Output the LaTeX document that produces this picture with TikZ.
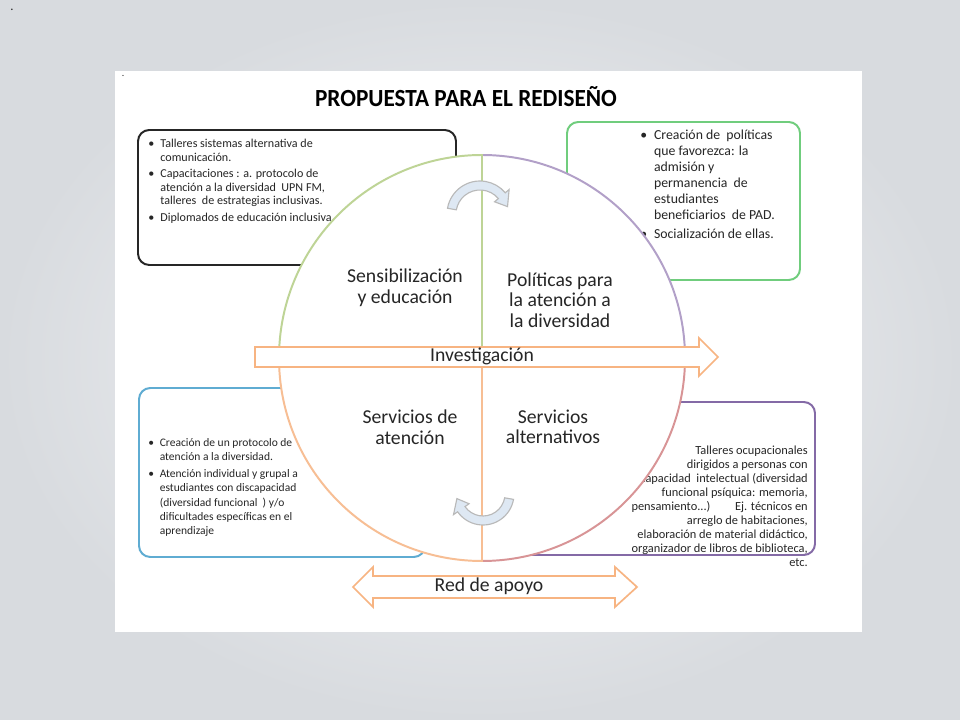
\documentclass[tikz,border=0pt]{standalone}
\usepackage{fontspec}
\setmainfont{Carlito}
\usetikzlibrary{positioning}
\definecolor{txt}{RGB}{38,38,38}
\definecolor{qgreen}{RGB}{190,212,150}
\definecolor{qpurple}{RGB}{178,160,200}
\definecolor{qorange}{RGB}{247,190,148}
\definecolor{qpink}{RGB}{216,148,150}
\definecolor{bgreen}{RGB}{112,205,125}
\definecolor{bblue}{RGB}{95,172,210}
\definecolor{bpurple}{RGB}{132,106,166}
\definecolor{arrorange}{RGB}{247,180,130}
\definecolor{turnblue}{RGB}{222,232,243}
\newcommand\bul{\makebox[1em][l]{\textbullet}}
\newcommand\ind{\hspace*{1em}}

\begin{document}
\begin{tikzpicture}[x=0.025cm, y=-0.025cm,
  lbl/.style={align=center, text=txt, font=\fontsize{14}{14.6}\selectfont, inner sep=0pt},
  note/.style={align=left, text=txt, font=\fontsize{8.6}{9.5}\selectfont, inner sep=0pt},
  box/.style={rounded corners=8pt, line width=1.4pt},
  quad/.style={fill=white, line width=1.4pt},
  blk/.style={draw=arrorange, fill=white, line width=1.2pt},
  turn/.style={draw=gray!55, fill=turnblue, line width=0.8pt}
]
\useasboundingbox (0,0) rectangle (960,720);
% slide background
\shade[inner color={rgb,255:red,245;green,246;blue,248}, outer color={rgb,255:red,216;green,219;blue,223}] (0,0) rectangle (960,720);
\fill[white] (115,71) rectangle (862,632);
\node[text=txt, font=\small] (dot1) at (12,10) {.};
\node[text=txt, font=\scriptsize] (dot2) at (123,76) {.};
\node[text=black, font=\bfseries\fontsize{17.5}{20}\selectfont] (title) at (466,97) {\scalebox{0.945}[1]{PROPUESTA PARA EL REDISEÑO}};

% side boxes
\draw[box, draw=black!85] (138,130) rectangle (456,265);
\draw[box, draw=bgreen] (567,122) rectangle (800,280);
\draw[box, draw=bblue] (139,388) rectangle (425,557);
\draw[box, draw=bpurple] (520,402) rectangle (815,555);

\node[note, anchor=north west] (t1) at (148,139) {%
\bul Talleres sistemas alternativa de\\
\ind comunicación.\\[2.5pt]
\bul Capacitaciones : a. protocolo de\\
\ind atención a la diversidad\ \ UPN FM,\\
\ind talleres\ \ de estrategias inclusivas.\\[2.5pt]
\bul Diplomados de educación inclusiva.};
\node[note, font=\fontsize{9.8}{11.4}\selectfont, anchor=north west] (t2) at (640,130) {%
\bul Creación de\ \ políticas\\
\ind que favorezca: la\\
\ind admisión y\\
\ind permanencia\ \ de\\
\ind estudiantes\\
\ind beneficiarios\ \ de PAD.\\[2pt]
\bul Socialización de ellas.};
\node[note, font=\fontsize{8.2}{10}\selectfont, anchor=north west] (t3) at (148,438) {%
\bul Creación de un protocolo de\\
\ind atención a la diversidad.\\[2.5pt]
\bul Atención individual y grupal a\\
\ind estudiantes con discapacidad\\
\ind (diversidad funcional\ \ ) y/o\\
\ind dificultades específicas\ en el\\
\ind aprendizaje};
\node[note, align=right, font=\fontsize{8.8}{9.95}\selectfont, anchor=north east] (t4) at (808,446) {%
Talleres ocupacionales\\
dirigidos a personas con\\
capacidad\ \ intelectual (diversidad\\
funcional psíquica: memoria,\\
pensamiento...)\qquad Ej. técnicos en\\
arreglo de habitaciones,\\
elaboración de material didáctico,\\
organizador de libros de biblioteca,\\
etc.};

% the circle
\coordinate (c) at (482,358);
\draw[quad, draw=qpurple] (c) -- ++(270:203) arc[start angle=270, end angle=360, radius=203] -- cycle;
\draw[quad, draw=qpink] (c) -- ++(0:203) arc[start angle=0, end angle=90, radius=203] -- cycle;
\draw[quad, draw=qgreen] (c) -- ++(180:203) arc[start angle=180, end angle=270, radius=203] -- cycle;
\draw[quad, draw=qorange] (c) -- ++(90:203) arc[start angle=90, end angle=180, radius=203] -- cycle;

% block arrows
\draw[blk] (255,347) -- (699,347) -- (699,338) -- (718,357) -- (699,376) -- (699,367) -- (255,367) -- cycle;
\draw[blk] (353,587) -- (373,567) -- (373,576) -- (615,576) -- (615,567) -- (637,587) -- (615,607) -- (615,598) -- (373,598) -- (373,607) -- cycle;
\node[lbl] (inv) at (482,356) {Investigación};
\node[lbl] (red) at (489,586) {Red de apoyo};

% turning arrows
\begin{scope}[shift={(480,214)}]
\filldraw[turn] (190:33) arc[start angle=190, end angle=320, radius=33] -- (320:38) -- (345:28.5) -- (320:19) -- (320:24) arc[start angle=320, end angle=190, radius=24] -- cycle;
\end{scope}
\begin{scope}[shift={(483,494)}]
\filldraw[turn] (10:31) arc[start angle=10, end angle=145, radius=31] -- (145:36) -- (170:26.5) -- (145:17) -- (145:22) arc[start angle=145, end angle=10, radius=22] -- cycle;
\end{scope}

% quadrant labels
\node[lbl] (q1) at (405,288) {Sensibilización\\y educación};
\node[lbl] (q2) at (560,300) {Políticas para\\la atención a\\la diversidad};
\node[lbl] (q3) at (410,427) {Servicios de\\atención};
\node[lbl] (q4) at (553,427) {Servicios\\alternativos};
\end{tikzpicture}
\end{document}
